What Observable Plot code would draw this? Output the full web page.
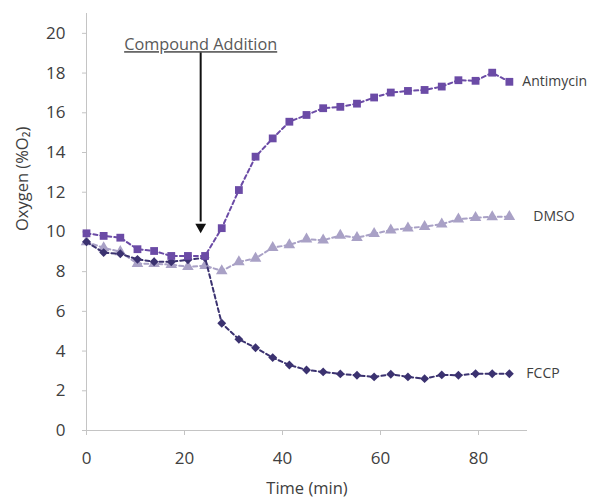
<!DOCTYPE html>
<html>
<head>
<meta charset="utf-8">
<script src="https://cdn.jsdelivr.net/npm/d3@7"></script>
<script src="https://cdn.jsdelivr.net/npm/@observablehq/plot@0.6"></script>
<style>
  html, body { margin: 0; padding: 0; background: #fff; }
</style>
</head>
<body>
<div id="chart"></div>
<script>
// ---- data ----
const times = [0, 3.5, 6.9, 10.4, 13.8, 17.3, 20.7, 24.2, 27.6, 31.1, 34.5, 38.0, 41.4,
  44.9, 48.3, 51.8, 55.2, 58.7, 62.1, 65.6, 69.0, 72.5, 75.9, 79.4, 82.8, 86.3];
const antimycin = [9.93, 9.80, 9.71, 9.13, 9.04, 8.79, 8.79, 8.79, 10.19, 12.11, 13.79, 14.71, 15.55,
  15.89, 16.23, 16.30, 16.46, 16.77, 17.02, 17.10, 17.15, 17.32, 17.64, 17.61, 18.02, 17.56];
const dmso = [9.5, 9.2, 9.0, 8.4, 8.4, 8.35, 8.25, 8.3, 8.04, 8.49, 8.67, 9.21, 9.35,
  9.63, 9.58, 9.82, 9.71, 9.91, 10.09, 10.19, 10.27, 10.39, 10.64, 10.72, 10.76, 10.77];
const fccp = [9.5, 8.96, 8.9, 8.62, 8.5, 8.5, 8.6, 8.7, 5.40, 4.59, 4.17, 3.67, 3.30,
  3.05, 2.95, 2.85, 2.78, 2.70, 2.83, 2.70, 2.61, 2.80, 2.78, 2.86, 2.86, 2.86];
const seriesNames = ["DMSO", "FCCP", "Antimycin"];
const xTicks = [0, 20, 40, 60, 80];
const yTicks = [0, 2, 4, 6, 8, 10, 12, 14, 16, 18, 20];
const additionTime = 23.3;
const annotationText = "Compound Addition";

// ---- styles ----
const styles = {
  DMSO: {color: "#a9a1c6", symbol: "triangle", r: 4.3, dx: 24},
  FCCP: {color: "#3b3270", symbol: "diamond2", r: 4, dx: 17},
  Antimycin: {color: "#6b4ba6", symbol: "square", r: 4.4, dx: 13}
};
const valuesBy = {DMSO: dmso, FCCP: fccp, Antimycin: antimycin};
const font = "'Open Sans', Lato, sans-serif";

const marks = [
  Plot.ruleY([0], {stroke: "#c4c4c4"}),
  Plot.ruleX([0], {stroke: "#c4c4c4"}),
  Plot.axisY({ticks: yTicks, tickSize: 4, tickPadding: 17, stroke: "#c4c4c4", label: null, fill: "#404040", fontSize: 17}),
  Plot.axisX({ticks: xTicks, tickSize: 5, tickPadding: 16, stroke: "#c4c4c4", label: null, fill: "#404040", fontSize: 17})
];

for (const name of seriesNames) {
  const s = styles[name];
  const rows = times.map((t, i) => ({t, v: valuesBy[name][i], name}));
  marks.push(Plot.line(rows, {x: "t", y: "v", stroke: s.color, strokeWidth: 2, strokeDasharray: "4,3"}));
  marks.push(Plot.dot(rows, {x: "t", y: "v", symbol: s.symbol, r: s.r, fill: s.color, stroke: "none"}));
  marks.push(Plot.text(rows, Plot.selectLast({x: "t", y: "v", text: "name", textAnchor: "start",
    dx: s.dx, fill: "#404040", fontSize: 14})));
}

// annotation arrow
marks.push(Plot.ruleX([additionTime], {y1: 19.05, y2: 10.5, stroke: "#111", strokeWidth: 2}));
marks.push(Plot.dot([additionTime], {x: d => d, y: 10.25, symbol: "triangle", rotate: 180, r: 4, fill: "#111", stroke: "none"}));
marks.push(Plot.text([annotationText], {x: additionTime, y: 19.42, fill: "#595959", fontSize: 16.3}));

// axis titles
marks.push(Plot.text(["Time (min)"], {frameAnchor: "bottom", dy: 63, fill: "#404040", fontSize: 16.5}));
marks.push(Plot.text(["Oxygen (%O₂)"], {x: 0, y: 12.67, dx: -64, rotate: -90, fill: "#404040", fontSize: 16.5}));

const chart = Plot.plot({
  width: 604,
  height: 500,
  marginLeft: 86,
  marginRight: 77,
  marginTop: 13,
  marginBottom: 70,
  x: {domain: [0, 90], label: null},
  y: {domain: [0, 21], label: null},
  style: {fontFamily: font, fontSize: "16px", background: "#fff", color: "#404040"},
  marks
});

d3.select(chart).selectAll("text").filter(function() { return this.textContent === annotationText; })
  .style("text-decoration", "underline");

document.getElementById("chart").appendChild(chart);
</script>
</body>
</html>
